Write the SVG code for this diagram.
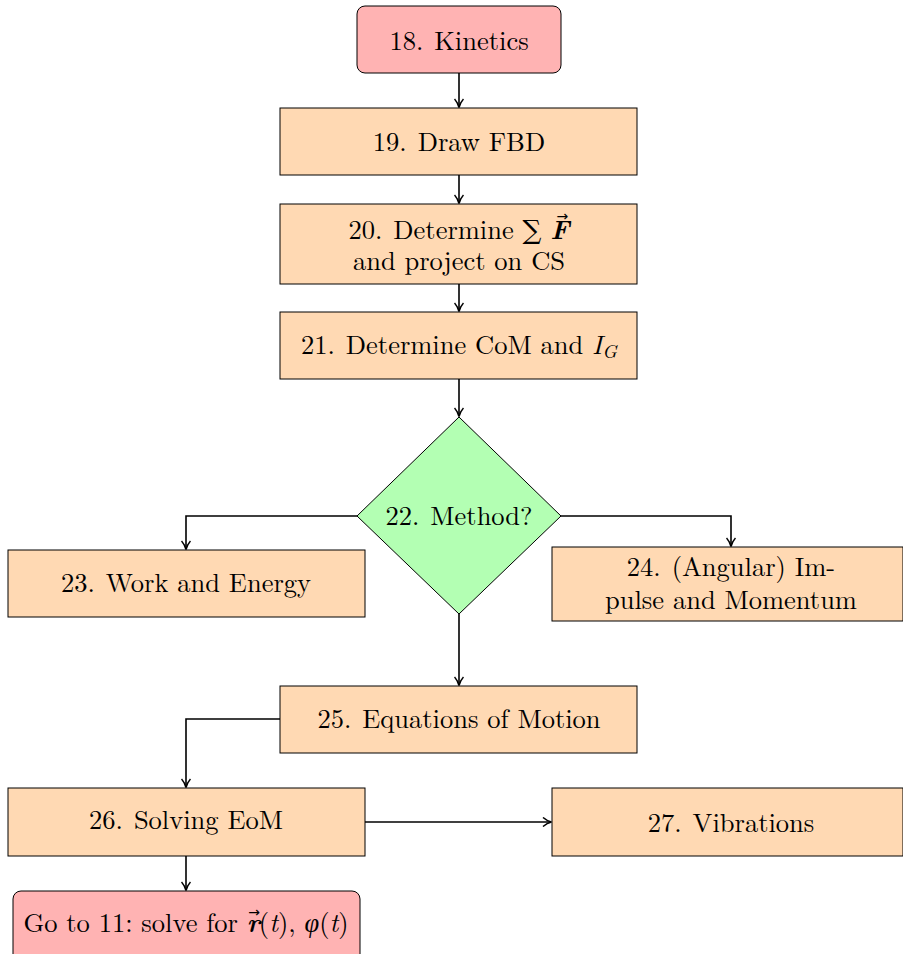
<svg xmlns="http://www.w3.org/2000/svg" width="903" height="954" viewBox="0 0 903 954">
<style>
.box{fill:#ffd9b3;stroke:#000;stroke-width:1}
.start{fill:#ffb3b3;stroke:#000;stroke-width:1}
.dec{fill:#b3ffb3;stroke:#000;stroke-width:1}
text{font-family:"Latin Modern Roman","DejaVu Serif","Liberation Serif",serif;font-size:26.5px;fill:#000;text-anchor:middle}
.i{font-style:italic}
.bi{font-style:italic;font-weight:bold}
.vec{font-size:14px;font-style:normal;font-weight:normal;font-family:"DejaVu Sans",sans-serif}
.phi{font-family:"Liberation Serif",serif;font-style:italic}
.c{fill:none;stroke:#000;stroke-width:1.6}
</style>
<defs>
<marker id="ah" viewBox="0 0 10 10" refX="9" refY="5" markerWidth="10" markerHeight="10" markerUnits="userSpaceOnUse" orient="auto">
<path d="M1,0.5 Q5,4 9.5,5 Q5,6 1,9.5" fill="none" stroke="#000" stroke-width="1.5"/>
</marker>
</defs>
<rect width="903" height="954" fill="#fff"/>
<g id="connectors">
<path class="c" d="M459,73 V107" marker-end="url(#ah)"/>
<path class="c" d="M459,175 V203" marker-end="url(#ah)"/>
<path class="c" d="M459,284 V311" marker-end="url(#ah)"/>
<path class="c" d="M459,379 V416" marker-end="url(#ah)"/>
<path class="c" d="M357,516 H186 V549" marker-end="url(#ah)"/>
<path class="c" d="M561,516 H731 V546" marker-end="url(#ah)"/>
<path class="c" d="M459,614 V685" marker-end="url(#ah)"/>
<path class="c" d="M280,719 H186 V787" marker-end="url(#ah)"/>
<path class="c" d="M365,822 H551" marker-end="url(#ah)"/>
<path class="c" d="M186,856 V890" marker-end="url(#ah)"/>
</g>
<g id="n18">
<rect class="start" x="357" y="6" width="204" height="67" rx="8"/>
<text x="459" y="50">18.<tspan dx="11">Kinetics</tspan></text>
</g>
<g id="n19">
<rect class="box" x="280" y="108" width="357" height="67"/>
<text x="459" y="151">19.<tspan dx="11">Draw FBD</tspan></text>
</g>
<g id="n20">
<rect class="box" x="280" y="204" width="357" height="80"/>
<text x="459" y="239">20.<tspan dx="11">Determine ∑ </tspan><tspan class="bi">F</tspan><tspan class="vec" dx="-13" dy="-18">→</tspan></text>
<text x="459" y="270">and project on CS</text>
</g>
<g id="n21">
<rect class="box" x="280" y="312" width="357" height="67"/>
<text x="459" y="354">21.<tspan dx="11">Determine CoM and </tspan><tspan class="i">I</tspan><tspan class="i" font-size="19" dy="4">G</tspan></text>
</g>
<g id="n22">
<polygon class="dec" points="459,417 561,516 459,614 357,516"/>
<text x="459" y="525">22.<tspan dx="11">Method?</tspan></text>
</g>
<g id="n23">
<rect class="box" x="8" y="550" width="357" height="67"/>
<text x="186" y="592">23.<tspan dx="11">Work and Energy</tspan></text>
</g>
<g id="n24">
<rect class="box" x="552" y="547" width="351" height="74"/>
<text x="731" y="576">24.<tspan dx="11">(Angular) Im-</tspan></text>
<text x="731" y="609">pulse and Momentum</text>
</g>
<g id="n25">
<rect class="box" x="280" y="686" width="357" height="67"/>
<text x="459" y="728">25.<tspan dx="11">Equations of Motion</tspan></text>
</g>
<g id="n26">
<rect class="box" x="8" y="788" width="357" height="68"/>
<text x="186" y="829">26.<tspan dx="11">Solving EoM</tspan></text>
</g>
<g id="n27">
<rect class="box" x="552" y="788" width="351" height="68"/>
<text x="731" y="832">27.<tspan dx="11">Vibrations</tspan></text>
</g>
<g id="n28">
<rect class="start" x="13" y="891" width="347" height="80" rx="8"/>
<text x="186" y="932">Go to 11: solve for <tspan class="bi">r</tspan><tspan class="vec" dx="-12" dy="-15">→</tspan><tspan dx="-1" dy="15">(</tspan><tspan class="i">t</tspan>), <tspan class="phi">φ</tspan>(<tspan class="i">t</tspan>)</text>
</g>
</svg>
